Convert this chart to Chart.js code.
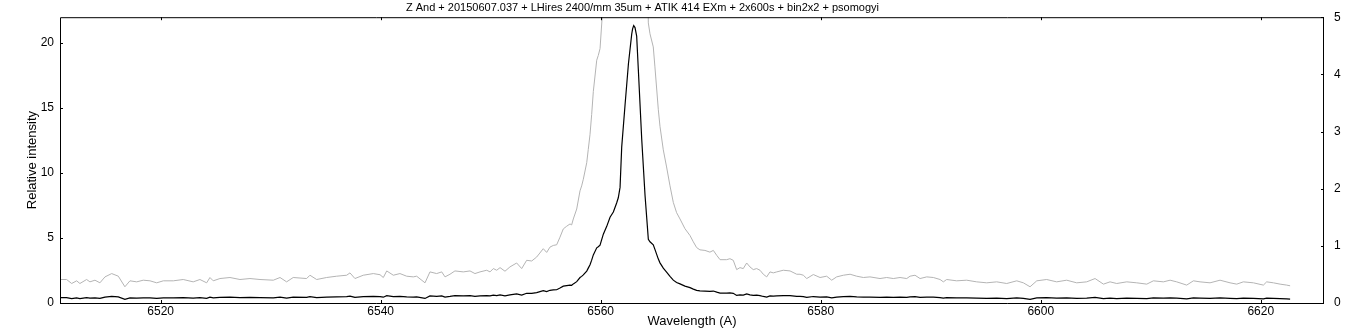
<!DOCTYPE html>
<html>
<head>
<meta charset="utf-8">
<script src="https://cdn.jsdelivr.net/npm/chart.js@4/dist/chart.umd.min.js"></script>
<style>
html,body{margin:0;padding:0;background:#fff;}
#c{display:block;}
</style>
</head>
<body>
<canvas id="c" width="1372" height="328"></canvas>
<script>
const chartTitle = "Z And + 20150607.037 + LHires 2400/mm 35um + ATIK 414 EXm + 2x600s + bin2x2 + psomogyi";
const xTitle = "Wavelength (A)";
const yTitle = "Relative intensity";
const xTicks = [6520, 6540, 6560, 6580, 6600, 6620];
const yTicks = [0, 5, 10, 15, 20];
const y2Ticks = [0, 1, 2, 3, 4, 5];

const wavelength = [
6510.85,6511.45,6511.91,6512.36,6512.66,6513.27,6513.57,6514.03,6514.48,6514.94,
6515.55,6516.15,6516.75,6517.21,6517.82,6518.42,6519.03,6519.64,6520.24,6521.15,
6522.05,6522.96,6523.57,6524.18,6524.48,6524.78,6525.39,6526.30,6527.21,6528.12,
6529.03,6530.24,6530.85,6531.45,6532.05,6533.27,6533.57,6534.18,6535.09,6536.00,
6536.91,6537.21,6537.66,6538.42,6539.33,6539.94,6540.24,6540.55,6541.15,6541.75,
6542.36,6542.96,6543.27,6544.03,6544.48,6545.09,6545.55,6545.85,6546.30,6546.75,
6547.51,6548.12,6548.57,6549.03,6549.64,6549.94,6550.24,6550.55,6550.85,6551.30,
6551.75,6552.36,6552.82,6553.27,6553.73,6554.18,6554.78,6555.09,6555.39,6555.69,
6556.00,6556.30,6556.60,6556.91,6557.21,6557.36,6557.51,6557.82,6558.12,6558.27,
6558.42,6558.73,6558.87,6559.03,6559.18,6559.33,6559.64,6559.78,6559.94,6560.24,
6560.55,6560.85,6561.15,6561.30,6561.45,6561.60,6561.76,6561.91,6562.21,6562.52,
6562.82,6562.90,6563.00,6563.12,6563.27,6563.42,6563.73,6564.03,6564.33,6564.48,
6564.78,6564.93,6565.24,6565.39,6565.69,6565.99,6566.30,6566.60,6566.90,6567.21,
6567.66,6568.12,6568.42,6568.72,6569.02,6569.48,6569.93,6570.24,6570.55,6570.85,
6571.45,6571.75,6572.05,6572.36,6572.66,6572.96,6573.27,6573.57,6573.87,6574.18,
6574.48,6574.78,6575.09,6575.39,6575.69,6576.00,6576.60,6577.21,6577.82,6578.12,
6578.42,6578.73,6579.33,6579.94,6580.54,6581.00,6581.45,6582.06,6582.67,6583.27,
6583.88,6584.48,6585.39,6586.00,6586.60,6587.21,6587.82,6588.12,6588.57,6589.03,
6589.64,6590.24,6590.85,6591.15,6591.45,6592.36,6593.27,6594.18,6595.09,6596.00,
6596.91,6597.82,6598.42,6599.03,6599.64,6600.54,6601.45,6602.36,6603.27,6604.18,
6604.94,6605.70,6606.30,6606.91,6607.82,6608.73,6609.64,6610.24,6611.15,6611.76,
6612.36,6613.27,6613.88,6614.48,6615.39,6616.30,6617.21,6617.82,6618.42,6619.33,
6620.24,6620.54,6621.15,6621.76,6622.36,6622.67
];

const intensity = [
0.411,0.411,0.341,0.388,0.341,0.411,0.370,0.399,0.353,0.457,
0.515,0.469,0.284,0.388,0.370,0.399,0.388,0.353,0.388,0.388,
0.411,0.370,0.411,0.353,0.446,0.388,0.428,0.446,0.411,0.428,
0.411,0.399,0.446,0.370,0.446,0.428,0.486,0.411,0.446,0.469,
0.486,0.527,0.428,0.486,0.515,0.495,0.446,0.561,0.486,0.515,
0.469,0.457,0.469,0.353,0.544,0.515,0.544,0.457,0.503,0.561,
0.544,0.561,0.515,0.544,0.573,0.544,0.602,0.573,0.619,0.556,
0.631,0.700,0.602,0.747,0.735,0.804,0.950,0.885,0.978,1.007,
1.019,1.152,1.296,1.343,1.383,1.366,1.470,1.644,1.962,2.049,
2.164,2.454,2.685,2.950,3.300,3.700,4.248,4.330,4.450,5.30,
5.90,6.60,7.00,7.35,7.70,8.10,8.90,12.0,15.2,18.4,
20.7,21.1,21.35,21.2,20.55,18.0,12.6,8.3,4.90,4.71,
4.48,4.13,3.38,3.09,2.68,2.38,2.05,1.76,1.58,1.47,
1.30,1.18,1.07,0.97,0.93,0.92,0.89,0.920,0.833,0.758,
0.758,0.775,0.747,0.584,0.619,0.602,0.700,0.631,0.584,0.602,
0.573,0.503,0.457,0.544,0.527,0.544,0.573,0.561,0.503,0.503,
0.486,0.428,0.498,0.446,0.469,0.399,0.457,0.486,0.503,0.469,
0.446,0.457,0.428,0.446,0.428,0.446,0.428,0.469,0.486,0.428,
0.457,0.446,0.411,0.370,0.411,0.388,0.399,0.370,0.353,0.370,
0.341,0.388,0.353,0.284,0.388,0.411,0.370,0.399,0.353,0.370,
0.428,0.330,0.370,0.341,0.370,0.353,0.330,0.388,0.370,0.399,
0.370,0.313,0.388,0.370,0.353,0.399,0.353,0.330,0.370,0.353,
0.313,0.370,0.353,0.330,0.313,0.301
];

const points = wavelength.map((w, i) => ({x: w, y: intensity[i]}));

const FONT = "'Liberation Sans', Arial, sans-serif";

const framePlugin = {
  id: 'frame',
  afterDatasetsDraw(chart) {
    const {ctx, chartArea: a, scales} = chart;
    ctx.save();
    ctx.strokeStyle = '#000';
    ctx.lineWidth = 1;
    ctx.beginPath();
    ctx.rect(a.left + 0.5, a.top + 0.5, a.right - a.left - 1, a.bottom - a.top);
    ctx.stroke();
    const L = 3;
    ctx.beginPath();
    xTicks.forEach(v => {
      const px = Math.round(scales.x.getPixelForValue(v)) + 0.5;
      ctx.moveTo(px, a.top); ctx.lineTo(px, a.top + L);
      ctx.moveTo(px, a.bottom); ctx.lineTo(px, a.bottom - L);
    });
    yTicks.forEach(v => {
      const py = Math.round(scales.y.getPixelForValue(v)) + 0.5;
      ctx.moveTo(a.left, py); ctx.lineTo(a.left + L, py);
    });
    y2Ticks.forEach(v => {
      const py = Math.round(scales.y1.getPixelForValue(v)) + 0.5;
      ctx.moveTo(a.right, py); ctx.lineTo(a.right - L, py);
    });
    ctx.stroke();
    // chart title (offset left of centre, as in the original)
    ctx.fillStyle = '#000';
    ctx.font = "11px " + FONT;
    ctx.textAlign = 'center';
    ctx.textBaseline = 'middle';
    ctx.fillText(chartTitle, 642.5, 8);
    ctx.restore();
  }
};

new Chart(document.getElementById('c'), {
  type: 'line',
  data: {
    datasets: [
      {
        data: points,
        yAxisID: 'y',
        borderColor: '#000000',
        borderWidth: 1.2,
        pointRadius: 0,
        tension: 0,
        fill: false
      },
      {
        data: points,
        yAxisID: 'y1',
        borderColor: '#b4b4b4',
        borderWidth: 1,
        pointRadius: 0,
        tension: 0,
        fill: false
      }
    ]
  },
  options: {
    responsive: false,
    animation: false,
    events: [],
    layout: {padding: {top: 15, left: 0, right: 0, bottom: 0}},
    plugins: {
      legend: {display: false},
      tooltip: {enabled: false},
      title: {display: false}
    },
    scales: {
      x: {
        type: 'linear',
        min: 6510.85,
        max: 6625.75,
        afterBuildTicks: s => { s.ticks = xTicks.map(v => ({value: v})); },
        afterFit: s => { s.height = 25; },
        grid: {display: false, drawTicks: false},
        border: {display: false},
        ticks: {color: '#000', padding: 1, maxRotation: 0, font: {family: FONT, size: 12},
                callback: v => String(v)},
        title: {display: true, text: xTitle, color: '#000', padding: {top: 0, bottom: 0},
                font: {family: FONT, size: 13, lineHeight: 1}}
      },
      y: {
        position: 'left',
        min: 0,
        max: 22,
        afterBuildTicks: s => { s.ticks = yTicks.map(v => ({value: v})); },
        afterFit: s => { s.width = 60; },
        grid: {display: false, drawTicks: false},
        border: {display: false},
        ticks: {color: '#000', padding: 6, font: {family: FONT, size: 12},
                callback: v => String(v)},
        title: {display: true, text: yTitle, color: '#000', padding: {top: 25, bottom: 0},
                font: {family: FONT, size: 13, lineHeight: 1.2}}
      },
      y1: {
        position: 'right',
        min: 0,
        max: 5,
        afterBuildTicks: s => { s.ticks = y2Ticks.map(v => ({value: v})); },
        afterFit: s => { s.width = 48; },
        grid: {display: false, drawTicks: false},
        border: {display: false},
        ticks: {color: '#000', padding: 10, font: {family: FONT, size: 12},
                callback: v => String(v)}
      }
    }
  },
  plugins: [framePlugin]
});
</script>
</body>
</html>
